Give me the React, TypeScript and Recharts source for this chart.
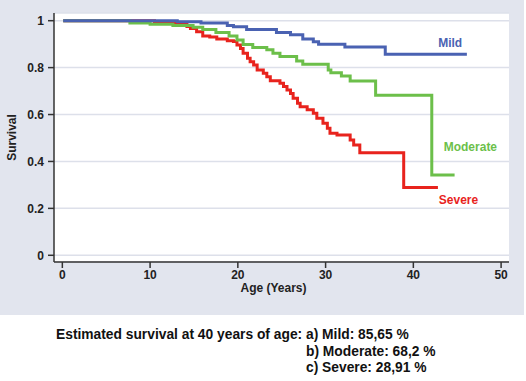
import { CartesianGrid, Line, LineChart, ReferenceDot, XAxis, YAxis } from "recharts";

const mildAge = [0.1, 13.1, 15.8, 18.8, 19.5, 21.0, 24.4, 26.0, 27.4, 28.6, 29.2, 32.2, 36.8, 46.1];
const mildSurvival = [1, 0.995, 0.99, 0.98, 0.974, 0.963, 0.95, 0.94, 0.922, 0.91, 0.9, 0.888, 0.8565, 0.8565];

const moderateAge = [
  0.1, 7.7, 10.0, 12.6, 14.9, 16.0, 17.5, 19.0, 19.9, 20.6, 21.7, 23.3, 24.0, 24.8, 26.7, 27.4, 30.3, 30.6,
  31.8, 32.8, 35.7, 42.1, 44.7,
];
const moderateSurvival = [
  1, 0.99, 0.985, 0.979, 0.972, 0.962, 0.95, 0.935, 0.918, 0.898, 0.886, 0.876, 0.861, 0.847, 0.828, 0.814,
  0.79, 0.778, 0.764, 0.743, 0.682, 0.342, 0.342,
];

const severeAge = [
  0.1, 10.5, 12.5, 14.2, 14.6, 15.3, 16.0, 16.8, 17.6, 18.8, 19.5, 19.9, 20.3, 20.6, 21.1, 21.4, 21.8, 22.2,
  22.9, 23.3, 23.7, 24.8, 25.2, 25.6, 26.0, 26.3, 26.8, 27.1, 27.9, 28.6, 29.0, 29.7, 30.2, 30.5, 31.3, 32.8,
  33.2, 33.9, 38.9, 42.8,
];
const severeSurvival = [
  1, 0.995, 0.99, 0.975, 0.967, 0.953, 0.935, 0.93, 0.922, 0.915, 0.911, 0.896, 0.882, 0.861, 0.84, 0.825,
  0.811, 0.79, 0.776, 0.761, 0.744, 0.733, 0.719, 0.705, 0.69, 0.669, 0.648, 0.633, 0.62, 0.605, 0.584, 0.563,
  0.541, 0.52, 0.513, 0.491, 0.47, 0.437, 0.2891, 0.2891,
];

const xTicks = [0, 10, 20, 30, 40, 50];
const yTicks = [0, 0.2, 0.4, 0.6, 0.8, 1];

const captionLead = "Estimated survival at 40 years of age:";
const captionLines = ["a) Mild: 85,65 %", "b) Moderate: 68,2 %", "c) Severe: 28,91 %"];

const BLUE = "#4a62b2";
const GREEN = "#6cbf4a";
const RED = "#e8231d";

const toPoints = (ages: number[], surv: number[]) => ages.map((age, i) => ({ age, s: surv[i] }));

const mild = toPoints(mildAge, mildSurvival);
const moderate = toPoints(moderateAge, moderateSurvival);
const severe = toPoints(severeAge, severeSurvival);

const tickStyle = { fontSize: 12, fontWeight: "bold", fill: "#222" };

export default function App() {
  return (
    <div
      style={{
        position: "relative",
        width: 526,
        height: 381,
        background: "#fff",
        fontFamily: "'Liberation Sans', Arial, sans-serif",
      }}
    >
      <style>{"body{margin:0}"}</style>
      <div style={{ position: "absolute", left: 0, top: 0, width: 524, height: 315, background: "#e2e5ee" }} />
      <div style={{ position: "absolute", left: 0, top: 0 }}>
        <LineChart width={526} height={315} margin={{ top: 13, right: 17, left: 0, bottom: 0 }}>
          <CartesianGrid vertical={false} fill="#fff" stroke="#dde0ea" strokeWidth={1.5} />
          <XAxis
            type="number"
            dataKey="age"
            domain={[-0.95, 50.9]}
            allowDataOverflow
            ticks={xTicks}
            height={53}
            tickSize={6}
            tickMargin={2}
            tick={tickStyle}
            axisLine={{ stroke: "#333", strokeWidth: 1.5 }}
            tickLine={{ stroke: "#333", strokeWidth: 1.5 }}
            label={{
              value: "Age (Years)",
              position: "insideBottom",
              offset: 23,
              dx: -8,
              fontSize: 12,
              fontWeight: "bold",
              fill: "#222",
            }}
          />
          <YAxis
            type="number"
            domain={[-0.0286, 1.0328]}
            allowDataOverflow
            ticks={yTicks}
            width={54}
            tickSize={6}
            tickMargin={4}
            tick={tickStyle}
            tickFormatter={(v: number) => String(v)}
            axisLine={{ stroke: "#333", strokeWidth: 1.5 }}
            tickLine={{ stroke: "#333", strokeWidth: 1.5 }}
            label={{
              value: "Survival",
              angle: -90,
              position: "insideLeft",
              offset: 12,
              fontSize: 12,
              fontWeight: "bold",
              fill: "#222",
              style: { textAnchor: "middle" },
            }}
          />
          <Line
            data={severe}
            dataKey="s"
            type="stepAfter"
            stroke={RED}
            strokeWidth={3}
            dot={false}
            isAnimationActive={false}
          />
          <Line
            data={moderate}
            dataKey="s"
            type="stepAfter"
            stroke={GREEN}
            strokeWidth={3}
            dot={false}
            isAnimationActive={false}
          />
          <Line
            data={mild}
            dataKey="s"
            type="stepAfter"
            stroke={BLUE}
            strokeWidth={3}
            dot={false}
            isAnimationActive={false}
          />
          <ReferenceDot
            x={44.2}
            y={0.905}
            r={1}
            fill="none"
            stroke="none"
            label={{ value: "Mild", fill: BLUE, fontSize: 12, fontWeight: "bold" }}
          />
          <ReferenceDot
            x={46.5}
            y={0.464}
            r={1}
            fill="none"
            stroke="none"
            label={{ value: "Moderate", fill: GREEN, fontSize: 12, fontWeight: "bold" }}
          />
          <ReferenceDot
            x={45.15}
            y={0.236}
            r={1}
            fill="none"
            stroke="none"
            label={{ value: "Severe", fill: RED, fontSize: 12, fontWeight: "bold" }}
          />
        </LineChart>
      </div>
      <div
        style={{
          position: "absolute",
          left: 56,
          top: 327,
          display: "flex",
          fontSize: 13.8,
          lineHeight: "16.5px",
          fontWeight: "bold",
          color: "#111",
          whiteSpace: "pre",
        }}
      >
        <div>{captionLead + " "}</div>
        <div>
          {captionLines.map((line) => (
            <div key={line}>{line}</div>
          ))}
        </div>
      </div>
    </div>
  );
}
